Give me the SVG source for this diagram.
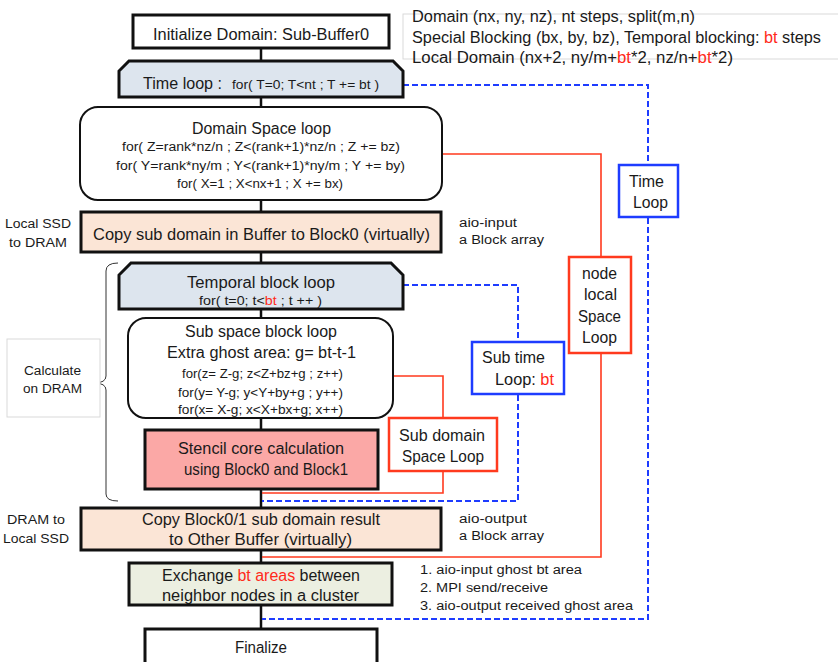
<svg xmlns="http://www.w3.org/2000/svg" width="838" height="662" viewBox="0 0 838 662">
<style>
text{font-family:"Liberation Sans","Noto Sans",sans-serif;fill:#1a1a1a}
.t16{font-size:16px}
.t12{font-size:12.5px}
.jp{font-size:12.5px}
.red{fill:#ff2a1a}
.box{stroke:#111;stroke-width:3}
.rbox{fill:#fff;stroke:#111;stroke-width:2}
.blue{fill:#fff;stroke:#1e3cff;stroke-width:2.5}
.redb{fill:#fff;stroke:#ff3a1e;stroke-width:2.5}
.gray{fill:#fff;stroke:#d9d9d9;stroke-width:1}
.bl{fill:none;stroke:#1e3cff;stroke-width:2;stroke-dasharray:6 3}
.rl{fill:none;stroke:#ff3a1e;stroke-width:1.6}
</style>
<rect width="838" height="662" fill="#fff"/>
<g id="connectors">
<line x1="261" y1="48" x2="261" y2="640" stroke="#111" stroke-width="2.5"/>
<path class="bl" d="M403,85 H648 V619 H262"/>
<path class="rl" d="M440,154 H601 V557 H262"/>
<path class="bl" d="M403,285 H518 V501 H262"/>
<path class="rl" d="M392,376 H443 V493 H262"/>
</g>
<g id="info">
<rect class="gray" x="403" y="14" width="440" height="45"/>
<text class="t16" x="412" y="22" textLength="283" lengthAdjust="spacingAndGlyphs">Domain (nx, ny, nz), nt steps, split(m,n)</text>
<text class="t16" x="412" y="43" textLength="409" lengthAdjust="spacingAndGlyphs">Special Blocking (bx, by, bz), Temporal blocking: <tspan class="red">bt</tspan> steps</text>
<text class="t16" x="412" y="63" textLength="321" lengthAdjust="spacingAndGlyphs">Local Domain (nx+2, ny/m+<tspan class="red">bt</tspan>*2, nz/n+<tspan class="red">bt</tspan>*2)</text>
</g>
<g id="init">
<rect class="box" x="133" y="15" width="256" height="33" fill="#fff"/>
<text class="t16" x="153" y="40" textLength="216" lengthAdjust="spacingAndGlyphs">Initialize Domain: Sub-Buffer0</text>
</g>
<g id="timeloop">
<polygon class="box" fill="#dde5ee" points="119,97 119,71 129,61 393,61 403,71 403,97"/>
<text class="t16" x="143" y="89" textLength="79" lengthAdjust="spacingAndGlyphs">Time loop :</text>
<text class="t12" x="232" y="89" textLength="147" lengthAdjust="spacingAndGlyphs">for( T=0; T&lt;nt ; T += bt )</text>
</g>
<g id="domainspace">
<rect class="rbox" x="80" y="107" width="362" height="93" rx="18"/>
<text class="t16" x="192" y="134" textLength="139" lengthAdjust="spacingAndGlyphs">Domain Space loop</text>
<text class="t12" x="122" y="151" textLength="278" lengthAdjust="spacingAndGlyphs">for( Z=rank*nz/n ; Z&lt;(rank+1)*nz/n ; Z += bz)</text>
<text class="t12" x="116" y="170" textLength="289" lengthAdjust="spacingAndGlyphs">for( Y=rank*ny/m ; Y&lt;(rank+1)*ny/m ; Y += by)</text>
<text class="t12" x="177" y="188" textLength="166" lengthAdjust="spacingAndGlyphs">for( X=1 ; X&lt;nx+1 ; X += bx)</text>
</g>
<g id="copyin">
<rect class="box" x="81" y="212" width="360" height="40" fill="#fbe5d6"/>
<text class="t16" x="93" y="240" textLength="337" lengthAdjust="spacingAndGlyphs">Copy sub domain in Buffer to Block0 (virtually)</text>
<text class="jp" x="5" y="228" textLength="66" lengthAdjust="spacingAndGlyphs">Local SSD</text>
<text class="jp" x="9" y="247" textLength="58" lengthAdjust="spacingAndGlyphs">to DRAM</text>
<text class="jp" x="459" y="227" textLength="58" lengthAdjust="spacingAndGlyphs">aio-input</text>
<text class="jp" x="459" y="244" textLength="85" lengthAdjust="spacingAndGlyphs">a Block array</text>
</g>
<g id="calcdram">
<path d="M118,263 Q106,263 106,271 L106,376 Q106,383 94,383 Q106,383 106,390 L106,494 Q106,501 118,501" fill="none" stroke="#333" stroke-width="1"/>
<rect class="gray" x="7" y="339" width="93" height="78"/>
<text class="jp" x="24" y="375" textLength="57" lengthAdjust="spacingAndGlyphs">Calculate</text>
<text class="jp" x="23" y="393" textLength="59" lengthAdjust="spacingAndGlyphs">on DRAM</text>
</g>
<g id="temporal">
<polygon class="box" fill="#dde5ee" points="119,309 119,275 131,263 391,263 403,275 403,309"/>
<text class="t16" x="187" y="288" textLength="148" lengthAdjust="spacingAndGlyphs">Temporal block loop</text>
<text class="t12" x="199" y="305" textLength="123" lengthAdjust="spacingAndGlyphs">for( t=0; t&lt;<tspan class="red">bt</tspan> ; t ++ )</text>
</g>
<g id="subspace">
<rect class="rbox" x="128" y="318" width="265" height="100" rx="18"/>
<text class="t16" x="185" y="337" textLength="152" lengthAdjust="spacingAndGlyphs">Sub space block loop</text>
<text class="t16" x="167" y="358" textLength="189" lengthAdjust="spacingAndGlyphs">Extra ghost area: g= bt-t-1</text>
<text class="t12" x="182" y="378" textLength="161" lengthAdjust="spacingAndGlyphs">for(z= Z-g; z&lt;Z+bz+g ; z++)</text>
<text class="t12" x="178" y="397" textLength="165" lengthAdjust="spacingAndGlyphs">for(y= Y-g; y&lt;Y+by+g ; y++)</text>
<text class="t12" x="178" y="414" textLength="165" lengthAdjust="spacingAndGlyphs">for(x= X-g; x&lt;X+bx+g;  x++)</text>
</g>
<g id="stencil">
<rect class="box" x="145" y="430" width="233" height="59" fill="#fba8a6"/>
<text class="t16" x="178" y="454" textLength="166" lengthAdjust="spacingAndGlyphs">Stencil core calculation</text>
<text class="t16" x="184" y="475" textLength="164" lengthAdjust="spacingAndGlyphs">using Block0 and Block1</text>
</g>
<g id="copyout">
<rect class="box" x="81" y="508" width="360" height="42" fill="#fbe5d6"/>
<text class="t16" x="142" y="525" textLength="238" lengthAdjust="spacingAndGlyphs">Copy Block0/1 sub domain result</text>
<text class="t16" x="169" y="545" textLength="183" lengthAdjust="spacingAndGlyphs">to Other Buffer (virtually)</text>
<text class="jp" x="7" y="524" textLength="58" lengthAdjust="spacingAndGlyphs">DRAM to</text>
<text class="jp" x="3" y="543" textLength="66" lengthAdjust="spacingAndGlyphs">Local SSD</text>
<text class="jp" x="459" y="523" textLength="68" lengthAdjust="spacingAndGlyphs">aio-output</text>
<text class="jp" x="459" y="540" textLength="85" lengthAdjust="spacingAndGlyphs">a Block array</text>
</g>
<g id="exchange">
<rect class="box" x="129" y="563" width="263" height="42" fill="#ecefe1"/>
<text class="t16" x="162" y="581" textLength="198" lengthAdjust="spacingAndGlyphs">Exchange <tspan class="red">bt areas</tspan> between</text>
<text class="t16" x="162" y="601" textLength="197" lengthAdjust="spacingAndGlyphs">neighbor nodes in a cluster</text>
<text class="jp" x="420" y="574" textLength="162" lengthAdjust="spacingAndGlyphs">1. aio-input ghost bt area</text>
<text class="jp" x="420" y="592" textLength="128" lengthAdjust="spacingAndGlyphs">2. MPI send/receive</text>
<text class="jp" x="420" y="610" textLength="213" lengthAdjust="spacingAndGlyphs">3. aio-output received ghost area</text>
</g>
<g id="finalize">
<rect class="box" x="145" y="629" width="232" height="45" fill="#fff"/>
<text class="t16" x="235" y="653" textLength="52" lengthAdjust="spacingAndGlyphs">Finalize</text>
</g>
<g id="timeloop-label">
<rect class="blue" x="619" y="165" width="59" height="52"/>
<text class="t16" x="629" y="187" textLength="35" lengthAdjust="spacingAndGlyphs">Time</text>
<text class="t16" x="633" y="208" textLength="35" lengthAdjust="spacingAndGlyphs">Loop</text>
</g>
<g id="nodelocal-label">
<rect class="redb" x="569" y="257" width="62" height="96"/>
<text class="t16" x="582" y="279" textLength="35" lengthAdjust="spacingAndGlyphs">node</text>
<text class="t16" x="584" y="300" textLength="33" lengthAdjust="spacingAndGlyphs">local</text>
<text class="t16" x="578" y="322" textLength="43" lengthAdjust="spacingAndGlyphs">Space</text>
<text class="t16" x="582" y="343" textLength="35" lengthAdjust="spacingAndGlyphs">Loop</text>
</g>
<g id="subtime-label">
<rect class="blue" x="472" y="342" width="92" height="52"/>
<text class="t16" x="482" y="363" textLength="63" lengthAdjust="spacingAndGlyphs">Sub time</text>
<text class="t16" x="495" y="385" textLength="59" lengthAdjust="spacingAndGlyphs">Loop: <tspan class="red">bt</tspan></text>
</g>
<g id="subdomain-label">
<rect class="redb" x="389" y="418" width="108" height="53"/>
<text class="t16" x="399" y="441" textLength="86" lengthAdjust="spacingAndGlyphs">Sub domain</text>
<text class="t16" x="402" y="462" textLength="82" lengthAdjust="spacingAndGlyphs">Space Loop</text>
</g>
</svg>
